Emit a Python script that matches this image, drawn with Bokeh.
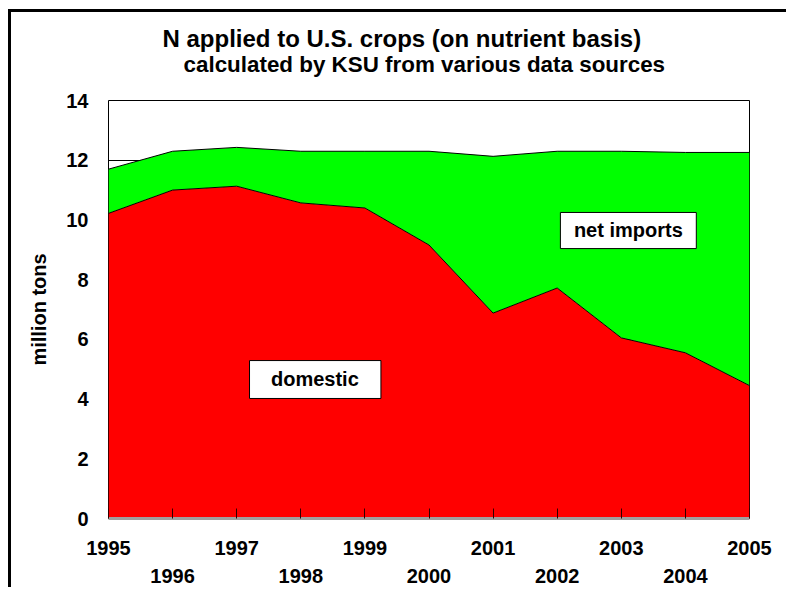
from bokeh.plotting import figure
from bokeh.models import Range1d, FixedTicker, Label, BoxAnnotation, ColumnDataSource, Title
from bokeh.transform import stack
from bokeh.embed import file_html
from bokeh.resources import INLINE

# ---- data ----
years = [1995, 1996, 1997, 1998, 1999, 2000, 2001, 2002, 2003, 2004, 2005]
domestic = [10.22, 11.00, 11.13, 10.57, 10.40, 9.16, 6.88, 7.72, 6.05, 5.55, 4.45]
net_imports = [1.48, 1.30, 1.30, 1.73, 1.90, 3.14, 5.25, 4.58, 6.25, 6.71, 7.81]
y_ticks = [0, 2, 4, 6, 8, 10, 12, 14]
x_labels_top = [1995, 1997, 1999, 2001, 2003, 2005]
x_labels_bottom = [1996, 1998, 2000, 2002, 2004]
title_1 = "N applied to U.S. crops (on nutrient basis)"
title_2 = "calculated by KSU from various data sources"
y_title = "million tons"

FONT = "Liberation Sans"

src = ColumnDataSource(dict(year=years, domestic=domestic, net_imports=net_imports))

p = figure(width=778, height=578,
           x_range=Range1d(years[0], years[-1]), y_range=Range1d(0, 14),
           output_backend="svg", toolbar_location=None,
           min_border_left=97, min_border_right=40,
           min_border_top=88, min_border_bottom=72)
p.styles = {"margin-left": "8px", "margin-top": "9px",
            "border-top": "3px solid black", "border-left": "3px solid black"}
p.background_fill_color = "white"
p.border_fill_color = "white"
p.outline_line_color = "black"
p.outline_line_width = 1

p.varea_stack(["domestic", "net_imports"], x="year", color=["#FF0000", "#00FF00"], source=src)
p.line(x="year", y="domestic", source=src, line_color="black", line_width=1)
p.line(x="year", y=stack("domestic", "net_imports"), source=src, line_color="black", line_width=1)

# grid
p.xgrid.grid_line_color = None
p.ygrid.ticker = FixedTicker(ticks=y_ticks)
p.ygrid.grid_line_color = "black"
p.ygrid.grid_line_width = 1

# y axis
ya = p.yaxis[0]
ya.ticker = FixedTicker(ticks=y_ticks)
ya.axis_line_color = None
ya.major_tick_line_color = None
ya.minor_tick_line_color = None
ya.major_label_standoff = 14
ya.major_label_text_font = FONT
ya.major_label_text_font_style = "bold"
ya.major_label_text_font_size = "20px"
ya.major_label_text_color = "black"
ya.axis_label = y_title
ya.axis_label_text_font = FONT
ya.axis_label_text_font_style = "bold"
ya.axis_label_text_font_size = "20px"
ya.axis_label_text_color = "black"
ya.axis_label_standoff = 13

# x axis (two staggered rows of year labels)
xa = p.xaxis[0]
xa.ticker = FixedTicker(ticks=years)
overrides = {}
for y in x_labels_top:
    overrides[y] = str(y)
for y in x_labels_bottom:
    overrides[y] = "\n" + str(y)
xa.major_label_overrides = overrides
xa.major_tick_in = 10
xa.major_tick_out = 0
xa.major_tick_line_color = "#300000"
xa.minor_tick_line_color = None
xa.axis_line_color = "#a0a0a0"
xa.axis_line_width = 3
xa.major_label_standoff = 18
xa.major_label_text_font = FONT
xa.major_label_text_font_style = "bold"
xa.major_label_text_font_size = "20px"
xa.major_label_text_color = "black"
xa.major_label_text_line_height = 1.3

# in-plot labels
for (l, r, b, t, tx, ty, txt) in [
    (1997.2, 1999.25, 4.02, 5.29, 1998.22, 4.66, "domestic"),
    (2002.05, 2004.17, 9.04, 10.25, 2003.11, 9.65, "net imports"),
]:
    p.add_layout(BoxAnnotation(left=l, right=r, bottom=b, top=t,
                               fill_color="white", fill_alpha=1.0,
                               line_color="black", line_width=1, line_alpha=1.0))
    p.add_layout(Label(x=tx, y=ty, text=txt, text_align="center", text_baseline="middle",
                       text_font=FONT, text_font_style="bold", text_font_size="20px",
                       text_color="black"))

# titles (second line added first: it sits next to the frame; a trailing empty
# line keeps it away from the frame)
p.add_layout(Title(text=title_2 + "\n", align="left", offset=75, standoff=0, vertical_align="top",
                   text_font=FONT, text_font_style="bold", text_font_size="22.4px",
                   text_color="black", text_line_height=0.88), "above")
p.add_layout(Title(text=title_1, align="left", offset=54, standoff=0,
                   text_font=FONT, text_font_style="bold", text_font_size="24px",
                   text_color="black", text_line_height=0.8), "above")

open("out.html", "w").write(file_html(p, INLINE))
